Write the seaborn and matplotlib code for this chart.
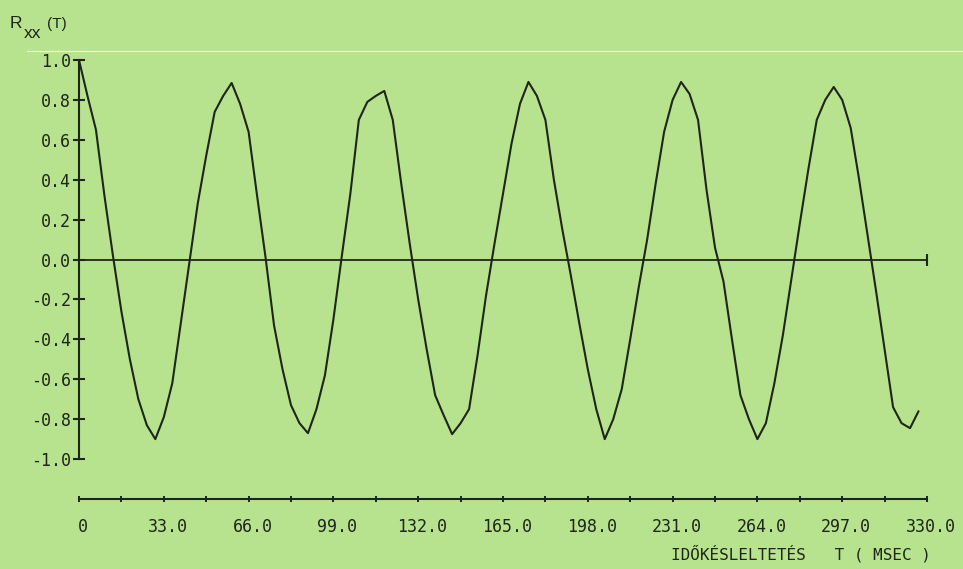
import numpy as np
import matplotlib
matplotlib.use("Agg")
import matplotlib.pyplot as plt
import matplotlib.transforms as mtransforms
import seaborn as sns
from matplotlib.lines import Line2D

# ---------------- data ----------------
lag_ms = np.round(np.arange(100) * 3.3, 1)   # lag axis, 3.3 ms steps
rxx = [
    1.00, 0.82, 0.65, 0.32, 0.02, -0.26, -0.50, -0.70, -0.83, -0.90,
    -0.79, -0.62, -0.32, -0.02, 0.28, 0.52, 0.74, 0.82, 0.885, 0.78,
    0.64, 0.32, 0.01, -0.33, -0.55, -0.73, -0.82, -0.87, -0.75, -0.58,
    -0.30, 0.02, 0.33, 0.70, 0.79, 0.82, 0.845, 0.70, 0.38, 0.08,
    -0.20, -0.45, -0.68, -0.78, -0.875, -0.82, -0.75, -0.48, -0.18, 0.08,
    0.33, 0.58, 0.78, 0.89, 0.82, 0.70, 0.40, 0.15, -0.08, -0.32,
    -0.55, -0.75, -0.90, -0.80, -0.65, -0.40, -0.14, 0.10, 0.38, 0.64,
    0.80, 0.89, 0.83, 0.70, 0.35, 0.06, -0.11, -0.40, -0.68, -0.80,
    -0.90, -0.82, -0.62, -0.38, -0.10, 0.18, 0.45, 0.70, 0.80, 0.865,
    0.80, 0.66, 0.40, 0.12, -0.16, -0.45, -0.74, -0.82, -0.845, -0.76,
]

y_ticks = [-1.0, -0.8, -0.6, -0.4, -0.2, 0.0, 0.2, 0.4, 0.6, 0.8, 1.0]
y_tick_labels = ["-1.0", "-0.8", "-0.6", "-0.4", "-0.2", "0.0",
                 "0.2", "0.4", "0.6", "0.8", "1.0"]
x_major = [0, 33, 66, 99, 132, 165, 198, 231, 264, 297, 330]
x_major_labels = ["0", "33.0", "66.0", "99.0", "132.0", "165.0",
                  "198.0", "231.0", "264.0", "297.0", "330.0"]
x_minor = [16.5, 49.5, 82.5, 115.5, 148.5, 181.5, 214.5, 247.5, 280.5, 313.5]

x_label = "IDŐKÉSLELTETÉS   T ( MSEC )"

# ---------------- style ----------------
bg = "#b8e38e"
ink = "#1d2619"
sns.set_theme(style="ticks")
plt.rcParams["font.family"] = ["DejaVu Sans Mono", "DejaVu Sans"]

fig = plt.figure(figsize=(9.63, 5.69), dpi=100, facecolor=bg)
W, H = 963.0, 569.0
ax = fig.add_axes([79 / W, (H - 499) / H, 848 / W, 439 / H])
ax.set_facecolor(bg)

sns.lineplot(x=lag_ms, y=rxx, ax=ax, color=ink, linewidth=1.5,
             clip_on=False, zorder=3)

# zero reference line with its end tick
ax.axhline(0.0, color=ink, linewidth=1.3, zorder=2)
ax.plot([x_major[-1]], [0.0], marker="|", markersize=9, markeredgewidth=1.5,
        color=ink, clip_on=False, zorder=3)

ax.set_xlim(x_major[0], x_major[-1])
ax.set_ylim(-1.2, 1.0)

for side in ("top", "right"):
    ax.spines[side].set_visible(False)
for side in ("left", "bottom"):
    ax.spines[side].set_color(ink)
    ax.spines[side].set_linewidth(1.5)
ax.spines["left"].set_bounds(-1.0, 1.0)

ax.set_yticks(y_ticks)
ax.set_yticklabels(y_tick_labels)
ax.set_xticks(x_major)
ax.set_xticklabels(x_major_labels)
ax.set_xticks(x_minor, minor=True)

ax.tick_params(axis="y", direction="inout", length=9, width=1.5, color=ink,
               labelcolor=ink, labelsize=12, pad=1)
ax.tick_params(axis="x", which="both", direction="inout", length=5, width=1.4,
               color=ink, labelcolor=ink, labelsize=12, pad=11)
shift = mtransforms.ScaledTranslation(4 / 100, 0, fig.dpi_scale_trans)
for lbl in ax.get_xticklabels():
    lbl.set_transform(lbl.get_transform() + shift)
ax.set_xlabel("")
ax.set_ylabel("")
ax.grid(False)

# y-axis title R_xx(T)
sans = ["Liberation Sans", "DejaVu Sans"]
fig.text(10 / W, 1 - 28 / H, "R", fontsize=12.5, color=ink, family=sans,
         ha="left", va="baseline")
fig.text(24 / W, 1 - 38 / H, "xx", fontsize=12.5, color=ink, family=sans,
         ha="left", va="baseline")
fig.text(47 / W, 1 - 28 / H, "(T)", fontsize=11, color=ink, family=sans,
         ha="left", va="baseline")

# x-axis title at lower right
fig.text(931 / W, 1 - 554 / H, x_label, fontsize=11.5, color=ink,
         ha="right", va="center")

# faint scan streak across the top
fig.add_artist(Line2D([27 / W, 1.0], [1 - 51 / H, 1 - 51 / H],
                      transform=fig.transFigure, color="white",
                      linewidth=0.8, alpha=0.85))

fig.savefig("out.png", dpi=100, facecolor=bg)
